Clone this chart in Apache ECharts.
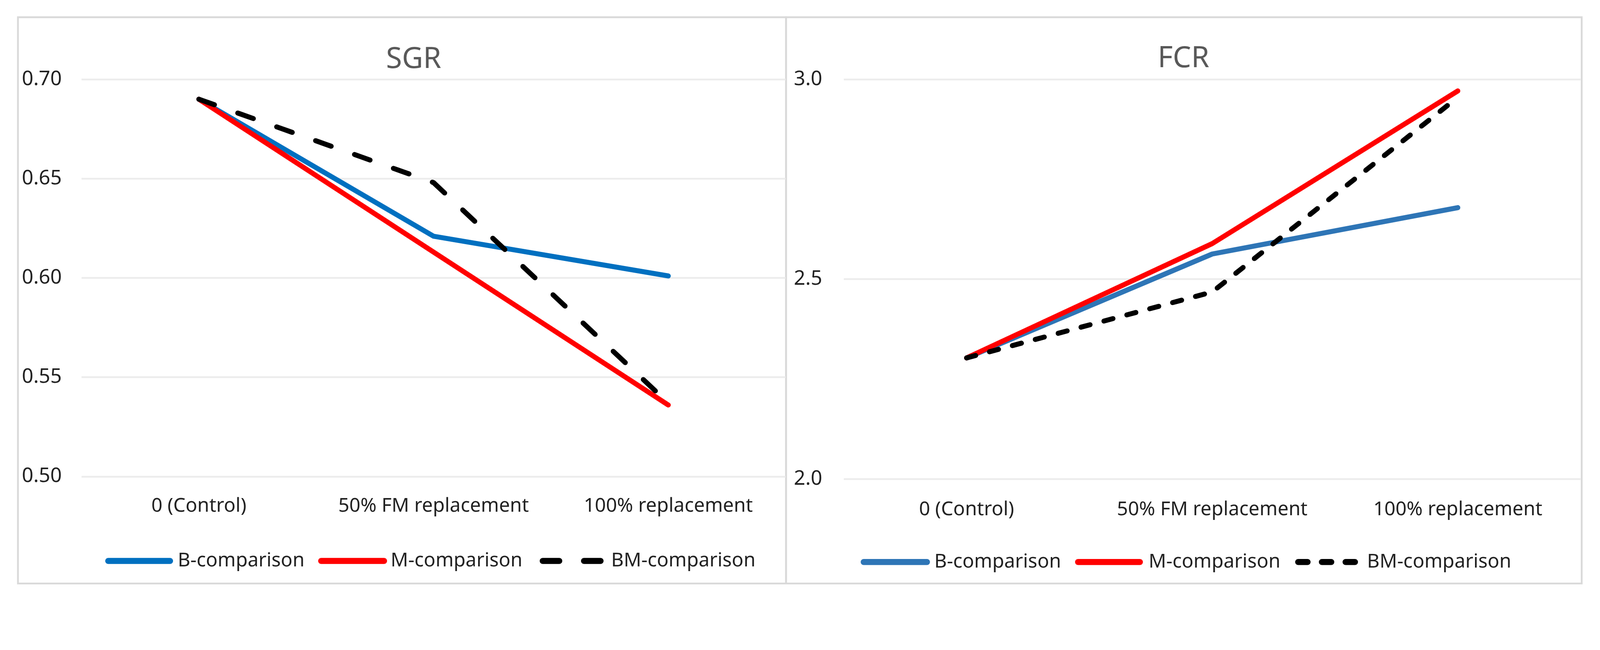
<!DOCTYPE html>
<html>
<head>
<meta charset="utf-8">
<script src="https://cdn.jsdelivr.net/npm/echarts@6/dist/echarts.min.js"></script>
<style>
  html, body { margin: 0; padding: 0; background: #ffffff; overflow: hidden; }
  #c1, #c2 { position: absolute; left: 0; top: 0; width: 100vw; height: 100vh; }
</style>
</head>
<body>
<div id="c1"></div>
<div id="c2"></div>
<script>
// ---- data ----
const categories = ['0 (Control)', '50% FM replacement', '100% replacement'];
const seriesNames = ['B-comparison', 'M-comparison', 'BM-comparison'];

const sgrB  = [0.690, 0.621, 0.601];
const sgrM  = [0.690, 0.613, 0.536];
const sgrBM = [0.690, 0.648, 0.537];

const fcrB  = [2.303, 2.563, 2.679];
const fcrM  = [2.303, 2.589, 2.971];
const fcrBM = [2.303, 2.468, 2.955];

const sgrTicks = ['0.50', '0.55', '0.60', '0.65', '0.70'];
const fcrTicks = ['2.0', '2.5', '3.0'];

const titles = ['SGR', 'FCR'];

// ---- layout scale (design space 4456 x 1664) ----
const s = Math.min(window.innerWidth / 4456, window.innerHeight / 1664);
const S = v => v * s;

// ---- styles ----
const FONT = '"Noto Sans", "Open Sans", sans-serif';
const LABEL_COLOR = '#222222';
const GRID_COLOR = '#ececec';

function tickRange(ticks) {
  const v = ticks.map(Number);
  return { min: v[0], max: v[v.length - 1], interval: v[1] - v[0], digits: ticks[0].split('.')[1].length };
}

function makeOption(cfg) {
  const r = tickRange(cfg.ticks);
  const legends = cfg.legend.map((lg, i) => ({
    data: [seriesNames[i]],
    left: S(lg.left),
    top: S(lg.center - 30),
    itemWidth: S(lg.w),
    itemHeight: S(60),
    padding: 0,
    selectedMode: false,
    itemStyle: { opacity: 0 },
    lineStyle: { width: S(17), cap: 'round' },
    textStyle: { fontFamily: FONT, fontSize: S(54), color: LABEL_COLOR, padding: [0, 0, 0, S(lg.pad)] }
  }));
  const lw = S(14);
  return {
    animation: false,
    legend: legends,
    graphic: cfg.graphic,
    grid: { left: S(cfg.grid.left), top: S(cfg.grid.top), width: S(cfg.grid.width), height: S(cfg.grid.height) },
    xAxis: {
      type: 'category',
      data: categories,
      boundaryGap: true,
      axisLine: { show: false },
      axisTick: { show: false },
      axisLabel: { fontFamily: FONT, fontSize: S(54), color: LABEL_COLOR, margin: S(cfg.xMargin), interval: 0 }
    },
    yAxis: {
      type: 'value',
      min: r.min, max: r.max, interval: r.interval,
      axisLine: { show: false },
      axisTick: { show: false },
      splitLine: { lineStyle: { color: GRID_COLOR, width: S(5) } },
      axisLabel: {
        fontFamily: FONT, fontSize: S(56), color: LABEL_COLOR, margin: S(cfg.yMargin),
        formatter: v => v.toFixed(r.digits)
      }
    },
    series: [
      { name: seriesNames[0], type: 'line', data: cfg.data[0], symbol: 'none',
        lineStyle: { color: cfg.colors[0], width: lw, cap: 'round', join: 'round' }, itemStyle: { color: cfg.colors[0] } },
      { name: seriesNames[1], type: 'line', data: cfg.data[1], symbol: 'none',
        lineStyle: { color: cfg.colors[1], width: lw, cap: 'round', join: 'round' }, itemStyle: { color: cfg.colors[1] } },
      { name: seriesNames[2], type: 'line', data: cfg.data[2], symbol: 'none', z: 3,
        lineStyle: { color: cfg.colors[2], width: lw, type: cfg.dash.map(S), cap: 'round', join: 'round' }, itemStyle: { color: cfg.colors[2] } }
    ]
  };
}

const border = (x, y, w, h) => ({ type: 'rect', silent: true, z: -1,
  shape: { x: S(x), y: S(y), width: S(w), height: S(h) }, style: { fill: 'none', stroke: '#d9d9d9', lineWidth: S(5) } });
const titleText = (t, x, y) => ({ type: 'text', silent: true, x: S(x), y: S(y),
  style: { text: t, font: S(81) + 'px ' + FONT, fill: '#595959', textAlign: 'center', textVerticalAlign: 'middle' } });

const chart1 = echarts.init(document.getElementById('c1'));
chart1.setOption(makeOption({
  ticks: sgrTicks,
  data: [sgrB, sgrM, sgrBM],
  colors: ['#0070c0', '#ff0000', '#000000'],
  dash: [46, 69],
  grid: { left: 227, top: 221, width: 1961, height: 1106 },
  xMargin: 56, yMargin: 55,
  legend: [
    { left: 293, w: 172, pad: 16, center: 1565 },
    { left: 886, w: 175, pad: 13, center: 1565 },
    { left: 1503, w: 163, pad: 22, center: 1565 }
  ],
  graphic: [
    border(50, 48, 2139, 1577),
    border(2189, 48, 2216, 1577),
    titleText(titles[0], 1152, 166)
  ]
}));

const chart2 = echarts.init(document.getElementById('c2'));
chart2.setOption(makeOption({
  ticks: fcrTicks,
  data: [fcrB, fcrM, fcrBM],
  colors: ['#2e75b6', '#ff0000', '#000000'],
  dash: [26, 40],
  grid: { left: 2350, top: 221, width: 2052, height: 1113 },
  xMargin: 58, yMargin: 60,
  legend: [
    { left: 2397, w: 176, pad: 15, center: 1568 },
    { left: 2994, w: 172, pad: 19, center: 1568 },
    { left: 3607, w: 162, pad: 24, center: 1568 }
  ],
  graphic: [
    titleText(titles[1], 3296, 164)
  ]
}));
</script>
</body>
</html>
